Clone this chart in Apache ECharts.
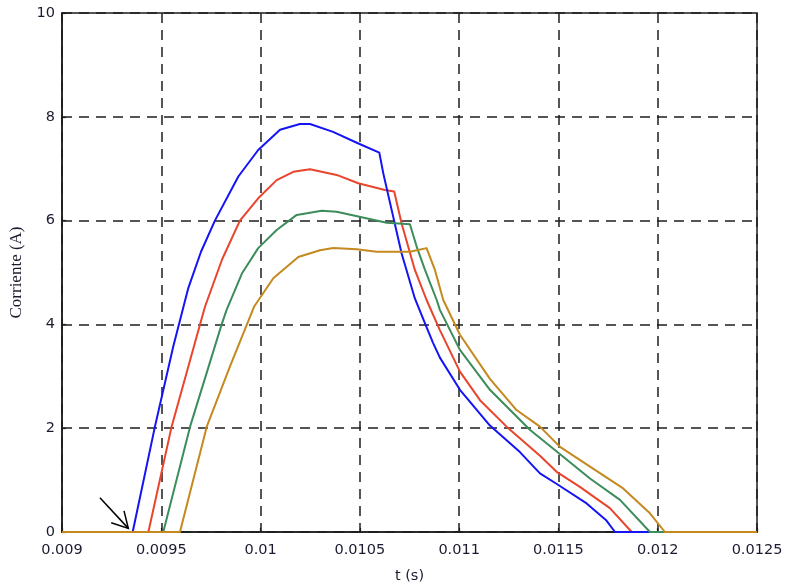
<!DOCTYPE html>
<html>
<head>
<meta charset="utf-8">
<script src="https://cdn.jsdelivr.net/npm/echarts@6/dist/echarts.min.js"></script>
<style>
  html, body { margin: 0; padding: 0; background: #ffffff; }
  #chart { width: 787px; height: 585px; }
</style>
</head>
<body>
<div id="chart"></div>
<script>
// Current pulses i(t) for four operating cases, time in seconds, current in amperes.
const blueCurve = [
  [0.009, 0], [0.009356, 0], [0.009468, 2.03], [0.009560, 3.57], [0.009636, 4.7],
  [0.009700, 5.4], [0.009770, 6.0], [0.009888, 6.85], [0.009988, 7.36], [0.010098, 7.75],
  [0.010198, 7.86], [0.010249, 7.86], [0.010365, 7.71], [0.010490, 7.49], [0.010598, 7.31],
  [0.010618, 6.91], [0.010710, 5.37], [0.010777, 4.50], [0.010828, 4.02], [0.010868, 3.65],
  [0.010903, 3.36], [0.011004, 2.74], [0.011155, 2.05], [0.011306, 1.54], [0.011407, 1.13],
  [0.011490, 0.93], [0.011642, 0.55], [0.011742, 0.22], [0.011785, 0], [0.0125, 0]
];
const redCurve = [
  [0.009, 0], [0.009435, 0], [0.009552, 2.03], [0.009695, 4.0], [0.009720, 4.34],
  [0.009806, 5.25], [0.009896, 6.0], [0.009988, 6.43], [0.010081, 6.78], [0.010165, 6.94],
  [0.010249, 6.99], [0.010383, 6.88], [0.010492, 6.72], [0.010626, 6.59], [0.010673, 6.56],
  [0.010710, 5.95], [0.010777, 5.05], [0.010836, 4.47], [0.010903, 3.89], [0.011004, 3.09],
  [0.011105, 2.54], [0.011239, 2.03], [0.011407, 1.47], [0.011491, 1.16], [0.011608, 0.87],
  [0.011759, 0.46], [0.011869, 0], [0.0125, 0]
];
const greenCurve = [
  [0.009, 0], [0.009510, 0], [0.009645, 2.03], [0.009804, 4.0], [0.009829, 4.28],
  [0.009906, 4.98], [0.009988, 5.47], [0.010081, 5.82], [0.010182, 6.11], [0.010308, 6.19],
  [0.010383, 6.17], [0.010492, 6.08], [0.010635, 5.96], [0.010752, 5.93], [0.010786, 5.50],
  [0.010828, 5.05], [0.010887, 4.47], [0.010903, 4.28], [0.011004, 3.51], [0.011155, 2.74],
  [0.011356, 1.97], [0.011524, 1.45], [0.011659, 1.03], [0.011810, 0.62], [0.011961, 0],
  [0.0125, 0]
];
const orangeCurve = [
  [0.009, 0], [0.009594, 0], [0.009729, 2.03], [0.009846, 3.19], [0.009967, 4.34],
  [0.010064, 4.89], [0.010190, 5.30], [0.010299, 5.43], [0.010366, 5.47], [0.010484, 5.45],
  [0.010585, 5.40], [0.010752, 5.40], [0.010836, 5.47], [0.010878, 5.05], [0.010920, 4.47],
  [0.011004, 3.80], [0.011155, 2.95], [0.011289, 2.35], [0.011407, 2.03], [0.011508, 1.64],
  [0.011659, 1.26], [0.011826, 0.84], [0.011961, 0.36], [0.012036, 0], [0.0125, 0]
];

// Axis ranges and ticks
const timeAxis = { min: 0.009, max: 0.0125, step: 0.0005 };
const currentAxis = { min: 0, max: 10, step: 2 };

// Arrow pointing at the start of the first pulse (tail -> tip, in data units)
const arrowTail = [0.009191, 0.66];
const arrowTip = [0.009334, 0.07];

const chart = echarts.init(document.getElementById('chart'), null, { renderer: 'canvas' });

const ink = '#1c1c1c';
const labelColor = '#1b1b30';
const gridDash = {
  color: '#1e1e1e',
  width: 1.5,
  type: [10, 7]
};

function line(name, data, color) {
  return {
    name: name,
    type: 'line',
    data: data,
    showSymbol: false,
    symbol: 'none',
    smooth: false,
    clip: true,
    lineStyle: { color: color, width: 2, join: 'round' },
    emphasis: { disabled: true }
  };
}

chart.setOption({
  animation: false,
  backgroundColor: '#ffffff',
  grid: {
    left: 62, right: 30, top: 13, bottom: 53,
    containLabel: false,
    outerBoundsMode: 'none',
    show: true,
    borderColor: ink,
    borderWidth: 1.5,
    backgroundColor: 'transparent'
  },
  xAxis: {
    type: 'value',
    min: timeAxis.min,
    max: timeAxis.max,
    interval: timeAxis.step,
    name: 't (s)',
    nameLocation: 'middle',
    nameGap: 37,
    nameTextStyle: { fontFamily: 'DejaVu Sans', fontSize: 14.5, color: labelColor },
    axisLine: { show: true, onZero: false, lineStyle: { color: ink, width: 1.5 } },
    axisTick: { show: true, inside: true, length: 4, lineStyle: { color: ink, width: 1.2 } },
    axisLabel: {
      margin: 11,
      fontFamily: 'DejaVu Sans',
      fontSize: 14.5,
      color: labelColor,
      formatter: function (v) { return String(parseFloat(v.toPrecision(6))); }
    },
    splitLine: { show: true, lineStyle: gridDash }
  },
  yAxis: {
    type: 'value',
    min: currentAxis.min,
    max: currentAxis.max,
    interval: currentAxis.step,
    name: 'Corriente (A)',
    nameLocation: 'middle',
    nameGap: 37,
    nameRotate: 90,
    nameTextStyle: { fontFamily: 'Liberation Serif', fontSize: 17, color: labelColor },
    axisLine: { show: true, onZero: false, lineStyle: { color: ink, width: 1.5 } },
    axisTick: { show: true, inside: true, length: 4, lineStyle: { color: ink, width: 1.2 } },
    axisLabel: {
      margin: 7,
      fontFamily: 'DejaVu Sans',
      fontSize: 14.5,
      color: labelColor
    },
    splitLine: { show: true, lineStyle: gridDash }
  },
  series: [
    line('Caso 2', redCurve, '#e8452c'),
    line('Caso 1', blueCurve, '#1414f5'),
    line('Caso 3', greenCurve, '#3c8c5c'),
    line('Caso 4', orangeCurve, '#c4891f')
  ]
});

// Open arrowhead annotation, placed through the chart's own coordinate system
const tail = chart.convertToPixel({ gridIndex: 0 }, arrowTail);
const tip = chart.convertToPixel({ gridIndex: 0 }, arrowTip);
const back = Math.atan2(tail[1] - tip[1], tail[0] - tip[0]);
const armLen = 18;
const spread = 29 * Math.PI / 180;
const armA = [tip[0] + armLen * Math.cos(back + spread), tip[1] + armLen * Math.sin(back + spread)];
const armB = [tip[0] + armLen * Math.cos(back - spread), tip[1] + armLen * Math.sin(back - spread)];

chart.setOption({
  graphic: [
    {
      type: 'line',
      shape: { x1: tail[0], y1: tail[1], x2: tip[0], y2: tip[1] },
      style: { stroke: '#000000', lineWidth: 1.5 },
      z: 100
    },
    {
      type: 'polyline',
      shape: { points: [armA, tip, armB] },
      style: { stroke: '#000000', lineWidth: 1.5, fill: null },
      z: 100
    }
  ]
});
</script>
</body>
</html>
